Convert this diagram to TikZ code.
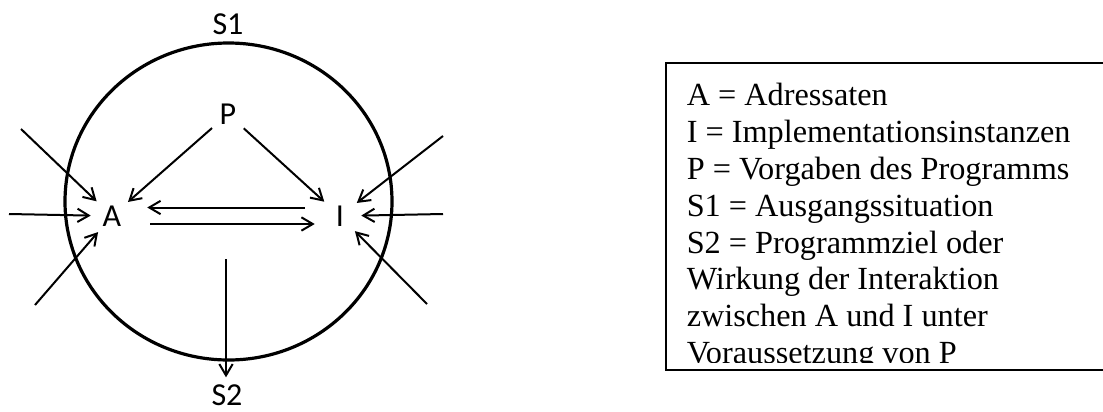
\documentclass[tikz,border=0pt]{standalone}
\usepackage{fontspec}
\setmainfont{Liberation Serif}
\newfontfamily\labelfont{Carlito}
\usetikzlibrary{arrows.meta}

\begin{document}
\begin{tikzpicture}[x=0.75pt, y=-0.75pt,
	letter/.style={circle, inner sep=0pt, minimum size=31.5pt, font=\labelfont\fontsize{24}{24}\selectfont},
	tag/.style={inner sep=0pt, font=\labelfont\fontsize{24}{24}\selectfont},
	arr/.style={-{Straight Barb[length=8.5pt, width=10pt]}, line width=1.5pt},
	ring/.style={line width=2.4pt},
	legend/.style={line width=1.1pt}]
	\useasboundingbox (0,0) rectangle (1103,411);

	\draw[ring] (228.5,201.5) ellipse [x radius=163.5, y radius=158.5];
	\node[tag] (S1) at (228,24) {S1};
	\node[tag, anchor=north] (S2) at (227,384) {S2};

	\node[letter] (P) at (228,114) {P};
	\node[letter] (A) at (112,216) {A};
	\node[letter] (I) at (340,216) {I};

	\draw[arr] (P) -- (A);
	\draw[arr] (P) -- (I);
	\draw[arr] ([shift={(-14,-8.5)}]I.west) -- ([shift={(14,-8.5)}]A.east);
	\draw[arr] ([shift={(17,8)}]A.east) -- ([shift={(-4,8)}]I.west);

	% influences from outside
	\coordinate (a1) at (21,129);
	\coordinate (a2) at (9,214);
	\coordinate (a3) at (35,305);
	\coordinate (i1) at (443,136);
	\coordinate (i2) at (443,214);
	\coordinate (i3) at (427,304);
	\foreach \c in {a1,a2,a3} \draw[arr] (\c) -- (A);
	\foreach \c in {i1,i2,i3} \draw[arr] (\c) -- (I);

	\coordinate (s2top) at (226,259);
	\draw[arr, shorten >=5pt] (s2top) -- (s2top |- S2.north);

	% key
	\draw[legend] (1103,63) -- (666,63) -- (666,370) -- (1103,370);
	\begin{scope}
		\clip (666,63) rectangle (1103,362.5);
		\node[anchor=base west, align=left, inner sep=0pt, font=\fontsize{24.2}{27.6}\selectfont] (key) at (686.5,363.5) {A = Adressaten\\
			I = Implementationsinstanzen\\
			P = Vorgaben des Programms\\
			S1 = Ausgangssituation\\
			S2 = Programmziel oder\\
			Wirkung der Interaktion\\
			zwischen A und I unter\\
			Voraussetzung von P};
	\end{scope}
\end{tikzpicture}
\end{document}
